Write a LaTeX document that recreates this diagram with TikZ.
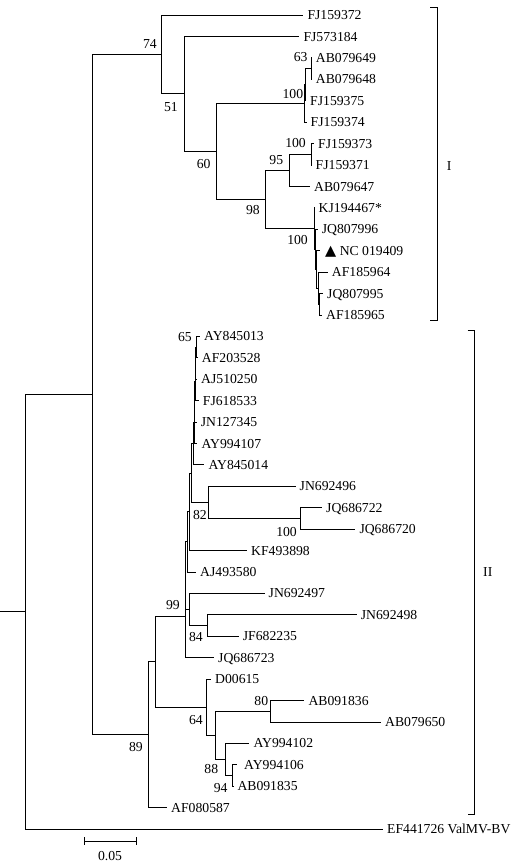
\documentclass[tikz,border=0pt]{standalone}
\usepackage{fontspec}
\setmainfont{Liberation Serif}
\newfontfamily\symf{DejaVu Sans}
\begin{document}
\begin{tikzpicture}[x=1pt,y=-1pt,
  font=\fontsize{13.7}{16}\selectfont,
  br/.style={draw=black, line width=0.8pt},
  leaf/.style={anchor=west, inner xsep=4pt, inner ysep=0pt, text height=9.3pt, text depth=0pt},
  bs/.style={anchor=east, inner sep=0pt, text height=9.3pt, text depth=0pt},
  grp/.style={anchor=west, inner sep=0pt, text height=9.3pt, text depth=0pt}]
\useasboundingbox (0,0) rectangle (518,866);

% internal nodes
\coordinate (R0) at (0,611.75);
\coordinate (R) at (25,611.75);
\coordinate (Ntop) at (92,394.6);
\coordinate (N74) at (161,54.5);
\coordinate (N51) at (184,93.9);
\coordinate (N60) at (216.5,151.4);
\coordinate (N100a) at (304.5,103.4);
\coordinate (Ni) at (305,84.6);
\coordinate (N63) at (311,68.5);
\coordinate (N98) at (265,199.4);
\coordinate (N95) at (289,170.3);
\coordinate (N100b) at (311,154.2);
\coordinate (KA) at (314,228.5);
\coordinate (KB) at (315,249.3);
\coordinate (KC) at (316.5,269.4);
\coordinate (KD) at (318,288.1);
\coordinate (KE) at (319.5,304.2);
\coordinate (N89) at (148,734.7);
\coordinate (X) at (155,661.85);
\coordinate (N99) at (185,616.6);
\coordinate (Y) at (185.7,575.6);
\coordinate (Z) at (189,609.4);
\coordinate (N84) at (207.7,625.5);
\coordinate (W) at (187.5,541.8);
\coordinate (V) at (189.5,511.75);
\coordinate (U) at (191.7,473.0);
\coordinate (N82) at (208,502.3);
\coordinate (N100c) at (300,518.4);
\coordinate (n5) at (193.2,443.7);
\coordinate (n4) at (194,422.65);
\coordinate (n3) at (194.5,401.9);
\coordinate (n2) at (195,381.8);
\coordinate (n1) at (195.5,363.05);
\coordinate (N65) at (196.5,347.0);
\coordinate (N64) at (206.7,707.1);
\coordinate (Nm) at (215,735.3);
\coordinate (N80) at (270,711.2);
\coordinate (N88) at (225,759.4);
\coordinate (N94) at (232.7,775.4);

% leaves
\node[leaf] (fj159372) at (303.3,15.0) {FJ159372};
\node[leaf] (fj573184) at (299.3,36.4) {FJ573184};
\node[leaf] (ab079649) at (311.7,57.8) {AB079649};
\node[leaf] (ab079648) at (311.7,79.3) {AB079648};
\node[leaf] (fj159375) at (306,100.7) {FJ159375};
\node[leaf] (fj159374) at (306.5,122.1) {FJ159374};
\node[leaf] (fj159373) at (314,143.5) {FJ159373};
\node[leaf] (fj159371) at (311.5,165.0) {FJ159371};
\node[leaf] (ab079647) at (310,186.4) {AB079647};
\node[leaf] (kj) at (314.5,207.8) {KJ194467*};
\node[leaf] (jq807996) at (317.7,229.2) {JQ807996};
\node[leaf, inner xsep=5.5pt] (nc) at (319.5,250.6) {{\symf\fontsize{14.5}{16}\selectfont ▲} NC 019409};
\node[leaf] (af185964) at (327.7,272.0) {AF185964};
\node[leaf] (jq807995) at (323,293.5) {JQ807995};
\node[leaf] (af185965) at (322,314.9) {AF185965};
\node[leaf] (ay845013) at (200,336.3) {AY845013};
\node[leaf] (af203528) at (197.7,357.7) {AF203528};
\node[leaf] (aj510250) at (197,379.1) {AJ510250};
\node[leaf] (fj618533) at (198.7,400.6) {FJ618533};
\node[leaf] (jn127345) at (196.7,422.0) {JN127345};
\node[leaf] (ay994107) at (197.3,443.4) {AY994107};
\node[leaf] (ay845014) at (204.3,464.8) {AY845014};
\node[leaf] (jn692496) at (295.5,486.2) {JN692496};
\node[leaf] (jq686722) at (322,507.7) {JQ686722};
\node[leaf] (jq686720) at (355.3,529.1) {JQ686720};
\node[leaf] (kf493898) at (247,550.5) {KF493898};
\node[leaf] (aj493580) at (196,571.9) {AJ493580};
\node[leaf] (jn692497) at (264.5,593.3) {JN692497};
\node[leaf] (jn692498) at (356.7,614.8) {JN692498};
\node[leaf] (jf682235) at (238.7,636.2) {JF682235};
\node[leaf] (jq686723) at (214,657.6) {JQ686723};
\node[leaf] (d00615) at (211,679.0) {D00615};
\node[leaf] (ab091836) at (304.3,700.4) {AB091836};
\node[leaf] (ab079650) at (381,721.9) {AB079650};
\node[leaf] (ay994102) at (249.3,743.3) {AY994102};
\node[leaf, inner xsep=7pt] (ay994106) at (237,764.7) {AY994106};
\node[leaf] (ab091835) at (233.3,786.1) {AB091835};
\node[leaf] (af080587) at (167,807.5) {AF080587};
\node[leaf] (ef) at (383,828.9) {EF441726 ValMV-BV};

% branches
\draw[br] (R0) -- (R);
\draw[br] (R) |- (Ntop);  \draw[br] (R) |- (ef.west);
\draw[br] (Ntop) |- (N74); \draw[br] (Ntop) |- (N89);
\draw[br] (N74) |- (fj159372.west); \draw[br] (N74) |- (N51);
\draw[br] (N51) |- (fj573184.west); \draw[br] (N51) |- (N60);
\draw[br] (N60) |- (N100a); \draw[br] (N60) |- (N98);
\draw[br] (N100a) |- (Ni); \draw[br] (N100a) |- (fj159374.west);
\draw[br] (Ni) |- (N63); \draw[br] (Ni) |- (fj159375.west);
\draw[br] (N63) |- (ab079649.west); \draw[br] (N63) |- (ab079648.west);
\draw[br] (N98) |- (N95); \draw[br] (N98) |- (KA);
\draw[br] (N95) |- (N100b); \draw[br] (N95) |- (ab079647.west);
\draw[br] (N100b) |- (fj159373.west); \draw[br] (N100b) |- (fj159371.west);
\draw[br] (KA) |- (kj.west); \draw[br] (KA) |- (KB);
\draw[br] (KB) |- (jq807996.west); \draw[br] (KB) |- (KC);
\draw[br] (KC) |- (nc.west); \draw[br] (KC) |- (KD);
\draw[br] (KD) |- (af185964.west); \draw[br] (KD) |- (KE);
\draw[br] (KE) |- (jq807995.west); \draw[br] (KE) |- (af185965.west);
\draw[br] (N89) |- (X); \draw[br] (N89) |- (af080587.west);
\draw[br] (X) |- (N99); \draw[br] (X) |- (N64);
\draw[br] (N99) |- (Y); \draw[br] (N99) |- (jq686723.west);
\draw[br] (Y) |- (W); \draw[br] (Y) |- (Z);
\draw[br] (W) |- (V); \draw[br] (W) |- (aj493580.west);
\draw[br] (V) |- (U); \draw[br] (V) |- (kf493898.west);
\draw[br] (U) |- (n5); \draw[br] (U) |- (N82);
\draw[br] (n5) |- (n4); \draw[br] (n5) |- (ay845014.west);
\draw[br] (n4) |- (n3); \draw[br] (n4) |- (ay994107.west);
\draw[br] (n3) |- (n2); \draw[br] (n3) |- (jn127345.west);
\draw[br] (n2) |- (n1); \draw[br] (n2) |- (fj618533.west);
\draw[br] (n1) |- (N65); \draw[br] (n1) |- (aj510250.west);
\draw[br] (N65) |- (ay845013.west); \draw[br] (N65) |- (af203528.west);
\draw[br] (N82) |- (jn692496.west); \draw[br] (N82) |- (N100c);
\draw[br] (N100c) |- (jq686722.west); \draw[br] (N100c) |- (jq686720.west);
\draw[br] (Z) |- (jn692497.west); \draw[br] (Z) |- (N84);
\draw[br] (N84) |- (jn692498.west); \draw[br] (N84) |- (jf682235.west);
\draw[br] (N64) |- (d00615.west); \draw[br] (N64) |- (Nm);
\draw[br] (Nm) |- (N80); \draw[br] (Nm) |- (N88);
\draw[br] (N80) |- (ab091836.west); \draw[br] (N80) |- (ab079650.west);
\draw[br] (N88) |- (ay994102.west); \draw[br] (N88) |- (N94);
\draw[br] (N94) |- (ay994106.west); \draw[br] (N94) |- (ab091835.west);

% bootstrap values
\node[bs] (b74) at (157,44) {74};
\node[bs] (b51) at (178,107) {51};
\node[bs] (b60) at (210.7,164.3) {60};
\node[bs] (b63) at (307.7,57.3) {63};
\node[bs] (b100a) at (303.3,94) {100};
\node[bs] (b100b) at (306,143) {100};
\node[bs] (b95) at (283.3,160) {95};
\node[bs] (b98) at (260,210) {98};
\node[bs] (b100k) at (308,240) {100};
\node[bs] (b65) at (192,337) {65};
\node[bs] (b82) at (207,515) {82};
\node[bs] (b100c) at (297,531.7) {100};
\node[bs] (b99) at (180,605) {99};
\node[bs] (b84) at (203,637) {84};
\node[bs] (b64) at (203,720) {64};
\node[bs] (b80) at (268.3,701) {80};
\node[bs] (b88) at (218.3,769.3) {88};
\node[bs] (b94) at (227.7,787.7) {94};
\node[bs] (b89) at (143,747) {89};

% group brackets
\draw[br] (430,7.5) -- (437.5,7.5) -- (437.5,320.5) -- (430,320.5);
\draw[br] (467.5,330) -- (474,330) -- (474,814) -- (467.5,814);
\node[grp] (gI) at (446.7,165.7) {I};
\node[grp] (gII) at (483,571.7) {II};

% scale bar
\draw[br] (84,837) -- (84,845);
\draw[br] (84,841) -- (136,841);
\draw[br] (136,837) -- (136,845);
\node[bs, anchor=center] (scale) at (110,856) {0.05};
\end{tikzpicture}
\end{document}
